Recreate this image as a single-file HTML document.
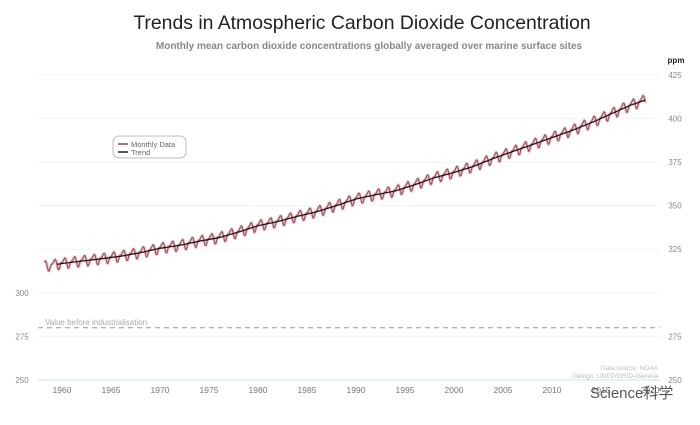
<!DOCTYPE html>
<html><head><meta charset="utf-8">
<style>
body{margin:0;background:#fff;width:700px;height:425px;overflow:hidden;font-family:"Liberation Sans","Noto Sans CJK SC",sans-serif;}
svg{display:block}
</style></head><body>
<svg id="chart" width="700" height="425">
  <text x="362" y="29" text-anchor="middle" font-size="19.4" fill="#222">Trends in Atmospheric Carbon Dioxide Concentration</text>
  <text x="369" y="49" text-anchor="middle" font-size="10" font-weight="bold" fill="#888">Monthly mean carbon dioxide concentrations globally averaged over marine surface sites</text>
  <text x="676" y="63" text-anchor="middle" font-size="8" font-weight="bold" fill="#222">ppm</text>
  <g id="grid"></g>
  <g id="axes"></g>
  <line x1="38" x2="660" y1="327.7" y2="327.7" stroke="#999" stroke-dasharray="5,4" stroke-width="1"/>
  <text x="45" y="325" font-size="8" fill="#aaa">Value before industrialisation</text>
  <g id="series"></g>
  <g>
    <rect x="113" y="136" width="73" height="22" rx="6" fill="#fff" stroke="#bbb"/>
    <line x1="118" x2="128" y1="144" y2="144" stroke="#8b4a55" stroke-width="1.5"/>
    <text x="131" y="147" font-size="7.5" fill="#666">Monthly Data</text>
    <line x1="118" x2="128" y1="152" y2="152" stroke="#222" stroke-width="1.5"/>
    <text x="131" y="155" font-size="7.5" fill="#666">Trend</text>
  </g>
  <text x="658" y="370" text-anchor="end" font-size="6.5" fill="#bbb">Data source: NOAA</text>
  <text x="658" y="378" text-anchor="end" font-size="6.5" fill="#bbb">Design: UNEP/GRID-Geneva</text>
  <text x="590" y="398" font-size="15" fill="#555">Science科学</text>
</svg>
<script>
const trendYears = [1958,1960,1962,1964,1966,1968,1970,1972,1974,1976,1978,1980,1982,1984,1986,1988,1990,1992,1994,1996,1998,2000,2002,2004,2006,2008,2010,2012,2014,2016,2018,2019.5];
const trendValues = [315,316.8,318.2,319.5,321,323,325.5,327.2,329.6,331.6,334.8,338.5,340.8,343.8,346.5,350,353.8,356.2,358.4,362,366,369,372.5,377,381,385,389,393,397.5,402.5,407.5,410.5];
const seasonalOffsets = [0.6,1.4,2.3,3.0,2.6,0.8,-1.4,-3.1,-3.0,-1.4,0.1,0.6];
const leftTicks = [250,275,300];
const rightTicks = [250,275,325,350,375,400,425];
const gridTicks = [275,300,325,350,375,400,425];
const xTicks = [1960,1965,1970,1975,1980,1985,1990,1995,2000,2005,2010,2015,2020];

const xScale = yr => 62 + (yr - 1960) * 9.8;
const yScale = v => 380 - (v - 250) * 1.744;
const NS = "http://www.w3.org/2000/svg";
function mk(tag, attrs, parent){const e=document.createElementNS(NS,tag);for(const k in attrs)e.setAttribute(k,attrs[k]);parent.appendChild(e);return e;}
const grid=document.getElementById('grid'), axes=document.getElementById('axes'), series=document.getElementById('series');

gridTicks.forEach(t=>{
  const g=mk('line',{x1:38,x2:660,y1:yScale(t),y2:yScale(t),stroke:'#f3f3f3','stroke-width':1},grid);
  
  
});
rightTicks.forEach(t=>{
  const l=mk('text',{x:675,y:yScale(t)+3,'text-anchor':'middle','font-size':8,fill:'#888'},axes);
  l.textContent=t;
  
  
});
leftTicks.forEach(t=>{
  const l=mk('text',{x:22,y:yScale(t)+3,'text-anchor':'middle','font-size':8,fill:'#888'},axes);
  l.textContent=t;
  
  
});
const base=mk('line',{x1:38,x2:660,y1:380,y2:380,stroke:'#cfe0e6','stroke-width':1},axes);


xTicks.forEach(t=>{
  const l=mk('text',{x:xScale(t),y:393,'text-anchor':'middle','font-size':8.5,fill:'#777'},axes);
  l.textContent=t;
  
  
});

function trendAt(yr){
  for(let i=0;i<trendYears.length-1;i++){
    if(yr<=trendYears[i+1]){const f=(yr-trendYears[i])/(trendYears[i+1]-trendYears[i]);return trendValues[i]+f*(trendValues[i+1]-trendValues[i]);}
  }
  return trendValues[trendValues.length-1];
}
let mPts=[];
for(let y=1958.2;y<=2019.6;y+=1/12){
  const m=Math.round((y-Math.floor(y))*12)%12;
  mPts.push(xScale(y).toFixed(1)+','+yScale(trendAt(y)+seasonalOffsets[m]).toFixed(1));
}
const halo=mk('polyline',{points:mPts.join(' '),fill:'none',stroke:'#f2c4ca','stroke-width':3,'stroke-linejoin':'round'},series);


const ml=mk('polyline',{points:mPts.join(' '),fill:'none',stroke:'#8a5560','stroke-width':1.1,'stroke-linejoin':'round'},series);


const tPts=trendYears.map((y,i)=>xScale(Math.max(y,1959.5)).toFixed(1)+','+yScale(y<1959.5?trendAt(1959.5):trendValues[i]).toFixed(1));
const tl=mk('polyline',{points:tPts.join(' '),fill:'none',stroke:'#2a1418','stroke-width':1.3},series);


</script>
</body></html>
